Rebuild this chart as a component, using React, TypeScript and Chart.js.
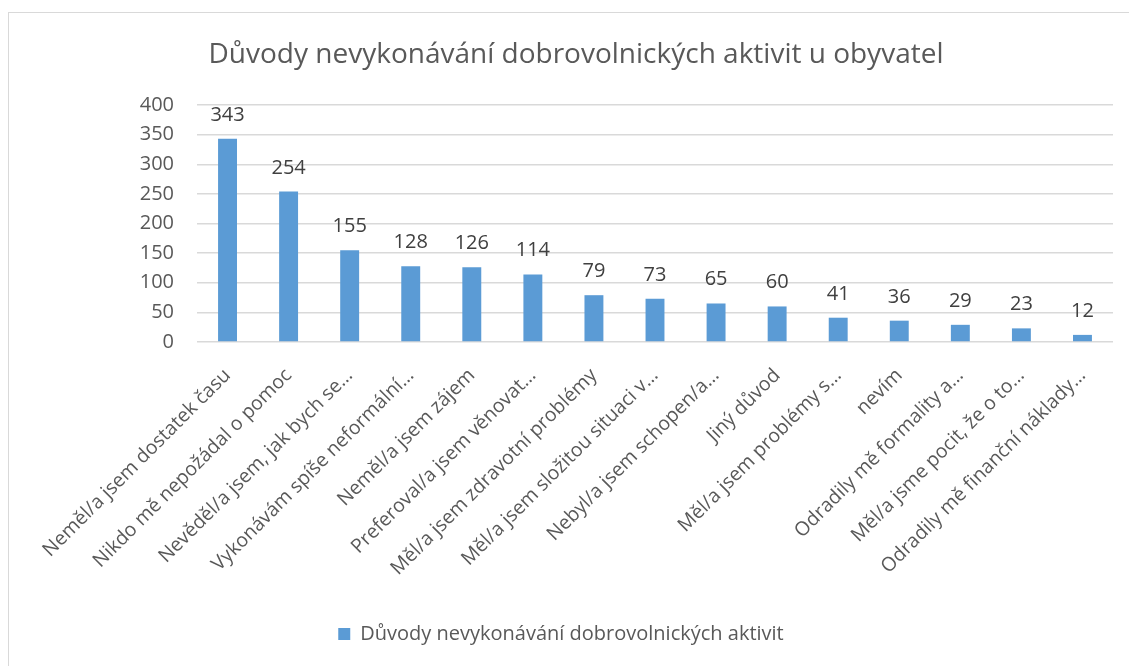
import React, { useEffect, useRef } from "react";
import { Chart, registerables } from "chart.js";

Chart.register(...registerables);

const categories: string[] = [
  "Neměl/a jsem dostatek času",
  "Nikdo mě nepožádal o pomoc",
  "Nevěděl/a jsem, jak bych se…",
  "Vykonávám spíše neformální…",
  "Neměl/a jsem zájem",
  "Preferoval/a jsem věnovat…",
  "Měl/a jsem zdravotní problémy",
  "Měl/a jsem složitou situaci v…",
  "Nebyl/a jsem schopen/a…",
  "Jiný důvod",
  "Měl/a jsem problémy s…",
  "nevím",
  "Odradily mě formality a…",
  "Měl/a jsme pocit, že o to…",
  "Odradily mě finanční náklady…",
];

const values: number[] = [343, 254, 155, 128, 126, 114, 79, 73, 65, 60, 41, 36, 29, 23, 12];

const seriesName = "Důvody nevykonávání dobrovolnických aktivit";
const chartTitle = "Důvody nevykonávání dobrovolnických aktivit u obyvatel";

const FONT = "'Open Sans', 'DejaVu Sans', sans-serif";
const TEXT = "#595959";

const dataLabelPlugin = {
  id: "dataLabels",
  afterDatasetsDraw(chart: any) {
    const ctx = chart.ctx;
    const meta = chart.getDatasetMeta(0);
    ctx.save();
    ctx.font = `20px ${FONT}`;
    ctx.fillStyle = "#404040";
    ctx.textAlign = "center";
    ctx.textBaseline = "alphabetic";
    meta.data.forEach((bar: any, i: number) => {
      const v = chart.data.datasets[0].data[i];
      ctx.fillText(String(v), bar.x, bar.y - 18);
    });
    ctx.restore();
  },
};

const titlePlugin = {
  id: "manualTitle",
  afterDraw(chart: any) {
    const ctx = chart.ctx;
    ctx.save();
    ctx.font = `28px ${FONT}`;
    ctx.fillStyle = TEXT;
    ctx.textAlign = "center";
    ctx.textBaseline = "middle";
    ctx.fillText(chartTitle, 567, 42);
    ctx.restore();
  },
};

export default function App() {
  const ref = useRef<HTMLCanvasElement | null>(null);

  useEffect(() => {
    if (!ref.current) return;
    const chart = new Chart(ref.current, {
      type: "bar",
      data: {
        labels: categories,
        datasets: [
          {
            label: seriesName,
            data: values,
            backgroundColor: "#5b9bd5",
            borderWidth: 0,
            categoryPercentage: 1,
            barPercentage: 0.31,
          },
        ],
      },
      options: {
        responsive: false,
        animation: false,
        layout: { padding: { left: 0, right: 16, top: 92, bottom: 12 } },
        plugins: {
          title: { display: false },
          legend: {
            position: "bottom",
            labels: {
              color: TEXT,
              font: { family: FONT, size: 20 },
              boxWidth: 12,
              boxHeight: 12,
              padding: 10,
            },
          },
          tooltip: { enabled: false },
        },
        scales: {
          x: {
            grid: { display: false, drawTicks: false },
            border: { display: false },
            ticks: {
              color: TEXT,
              font: { family: FONT, size: 19.5 },
              maxRotation: 45,
              minRotation: 45,
              autoSkip: false,
              padding: 22,
            },
            afterFit(scale: any) {
              scale.height = 272;
            },
          },
          y: {
            min: 0,
            max: 400,
            grid: { color: "#d9d9d9", lineWidth: 1.5, drawTicks: false },
            border: { display: false },
            ticks: {
              stepSize: 50,
              color: TEXT,
              font: { family: FONT, size: 20 },
              padding: 23,
            },
            afterFit(scale: any) {
              scale.width = 188;
            },
          },
        },
      },
      plugins: [dataLabelPlugin, titlePlugin],
    });
    return () => chart.destroy();
  }, []);

  return (
    <div style={{ position: "fixed", inset: 0, overflow: "hidden", background: "#fff" }}>
      <div
        style={{
          position: "absolute",
          left: 8,
          top: 12,
          width: 1200,
          height: 700,
          border: "1px solid #d9d9d9",
        }}
      >
        <canvas ref={ref} width={1120} height={653} style={{ display: "block" }} />
      </div>
    </div>
  );
}
